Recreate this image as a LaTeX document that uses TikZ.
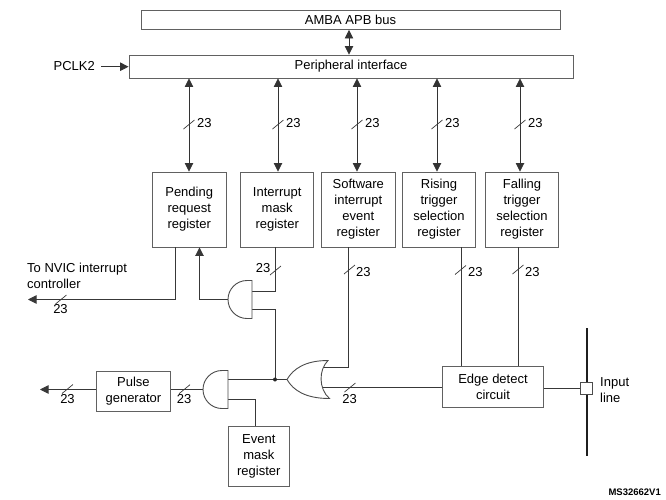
\documentclass[tikz,border=0pt]{standalone}
\usepackage{fontspec}
\setmainfont{Liberation Sans}
\usetikzlibrary{arrows.meta}
\begin{document}
\begin{tikzpicture}[x=1pt,y=-1pt,
  every node/.style={font=\fontsize{13}{16}\selectfont, inner sep=0pt},
  box/.style={draw=black!62, line width=0.9pt, align=center, fill=white},
  wire/.style={draw=black!78, line width=0.9pt},
  bus/.style={draw=black!80, line width=0.75pt},
  tip/.style={-{Triangle[length=8.5pt,width=8.5pt]}},
  dtip/.style={{Triangle[length=8.5pt,width=8.5pt]}-{Triangle[length=8.5pt,width=8.5pt]}},
  gate/.style={draw=black!70, line width=0.9pt, fill=white},
  busslash/.pic={\draw[draw=black!78, line width=0.7pt] (-5.5,4.5) -- (5.5,-4.5);},
]
\useasboundingbox (0,0) rectangle (666,499);

% ---------- top boxes ----------
\node[box, minimum width=419pt, minimum height=19pt] (amba) at (350.5,20) {AMBA APB bus};
\node[box, minimum width=444pt, minimum height=23pt] (perif) at (351,66.5) {Peripheral interface};
\node[anchor=east] (pclk) at (95,66) {PCLK2};
\coordinate (pclkA) at (101,66.7);
\draw[bus,tip] (pclkA) -- (perif.west |- pclkA);
\coordinate (ab) at (349,0);
\draw[bus,dtip] (amba.south -| ab) -- (perif.north -| ab);

% ---------- register row ----------
\node[box, minimum width=73.5pt, minimum height=75pt] (pend) at (189.2,209.5) {Pending\\request\\register};
\node[box, minimum width=73pt, minimum height=75pt] (mask) at (277.2,209.5) {Interrupt\\mask\\register};
\node[box, minimum width=73.3pt, minimum height=75pt] (swi) at (358.3,209.5) {Software\\interrupt\\event\\register};
\node[box, minimum width=73.3pt, minimum height=75pt] (rise) at (439,209.5) {Rising\\trigger\\selection\\register};
\node[box, minimum width=73.3pt, minimum height=75pt] (fall) at (522,209.5) {Falling\\trigger\\selection\\register};

\foreach \bx/\b [count=\i] in {189/pend,278/mask,357/swi,437/rise,520/fall}{
  \coordinate (bc\i) at (\bx,0);
  \draw[bus,dtip] (perif.south -| bc\i) -- (\b.north -| bc\i);
  \pic at (\bx,124.5) {busslash};
  \node[anchor=west] (tl\i) at (\bx+8,123.5) {23};
}

% ---------- lower boxes ----------
\node[box, minimum width=100.6pt, minimum height=40.6pt] (edge) at (493,387) {Edge detect\\circuit};
\node[box, minimum width=73.3pt, minimum height=40.7pt] (pulse) at (133.4,391.3) {Pulse\\generator};
\node[box, minimum width=61pt, minimum height=60pt] (evm) at (258.8,456) {Event\\mask\\register};

\node[anchor=west, align=left] (nvic) at (27,276) {To NVIC interrupt\\controller};
\node[anchor=west, align=left] (inl) at (600,390) {Input\\line};
\node[anchor=east, font=\fontsize{9.5}{11}\selectfont\bfseries] (ms) at (661,492) {MS32662V1};

% ---------- gate pins ----------
\coordinate (a1o) at (228,299.5);
\coordinate (a1i1) at (252,291);
\coordinate (a1i2) at (252,309);
\coordinate (a2o) at (203,389.5);
\coordinate (a2i1) at (228,379.5);
\coordinate (a2i2) at (228,399.5);
\coordinate (oro) at (287,379.5);
\coordinate (ori1) at (320,367.5);
\coordinate (ori2) at (320,387.7);

% ---------- wires ----------
\coordinate (nv) at (175.7,299.5);
\coordinate (nvE) at (28,299.5);
\draw[wire,tip] (pend.south -| nv) -- (nv) -- (nvE);
\pic at (61,299.5) {busslash};
\node (nvl) at (60.5,309.5) {23};

\coordinate (pu) at (199.5,299.5);
\draw[wire,tip] (a1o) -- (pu) -- (pend.south -| pu);

\coordinate (m1) at (275,291);
\draw[wire] (mask.south -| m1) -- (m1) -- (a1i1);
\pic at (275.5,270.5) {busslash};
\node[anchor=east] (ml) at (270.5,268) {23};

\coordinate (jn) at (275,379.5);
\draw[wire] (a1i2) -- (a1i2 -| jn) -- (jn);
\draw[wire] (oro) -- (a2i1);

\coordinate (s1) at (348.3,367.5);
\draw[wire] (swi.south -| s1) -- (s1) -- (ori1);
\pic at (349.5,269.5) {busslash};
\node[anchor=west] (sl) at (356,272) {23};

\draw[wire] (edge.west |- ori2) -- (ori2);
\pic at (350,387.5) {busslash};
\node (el) at (349.5,399) {23};

\coordinate (r1) at (461.7,0);
\draw[wire] (rise.south -| r1) -- (edge.north -| r1);
\pic at (460.5,270) {busslash};
\node[anchor=west] (rl) at (468,271.7) {23};

\coordinate (f1) at (518.3,0);
\draw[wire] (fall.south -| f1) -- (edge.north -| f1);
\pic at (518,269.5) {busslash};
\node[anchor=west] (fl) at (525,271.7) {23};

\draw[wire] (a2o) -- (pulse.east |- a2o);
\pic at (184.5,389.2) {busslash};
\node (pl) at (184,399.5) {23};

\coordinate (poE) at (40,389.5);
\draw[wire,tip] (pulse.west |- a2o) -- (poE);
\pic at (67.5,389) {busslash};
\node (pol) at (67.5,399.5) {23};

\coordinate (ev) at (255.7,0);
\draw[wire] (a2i2) -- (a2i2 -| ev) -- (evm.north -| ev);

% ---------- input line ----------
\coordinate (il1) at (586.7,328.3);
\coordinate (il2) at (586.7,456);
\draw[line width=2pt, black!88] (il1) -- (il2);
\node[draw=black!70, line width=0.9pt, fill=white, minimum width=11.6pt, minimum height=11.3pt] (sq) at (586.5,388.4) {};
\draw[wire] (edge.east |- sq.west) -- (sq.west);

% ---------- gates ----------
\draw[gate] (252,280.5) -- (247,280.5) .. controls (236.5,280.5) and (228,289) .. (228,299.5)
  .. controls (228,310) and (236.5,318.5) .. (247,318.5) -- (252,318.5) -- cycle;
\draw[gate] (228,370.5) -- (222,370.5) .. controls (211.5,370.5) and (203,379) .. (203,389.5)
  .. controls (203,400) and (211.5,408.5) .. (222,408.5) -- (228,408.5) -- cycle;
\draw[gate] (287,379.5) .. controls (293,369) and (305,360.5) .. (328,360.5)
  .. controls (318.5,370) and (318.5,389) .. (329.5,398.5)
  .. controls (305,398.5) and (293,390) .. (287,379.5) -- cycle;
\fill[black!85] (jn) circle (2pt);
\end{tikzpicture}
\end{document}
